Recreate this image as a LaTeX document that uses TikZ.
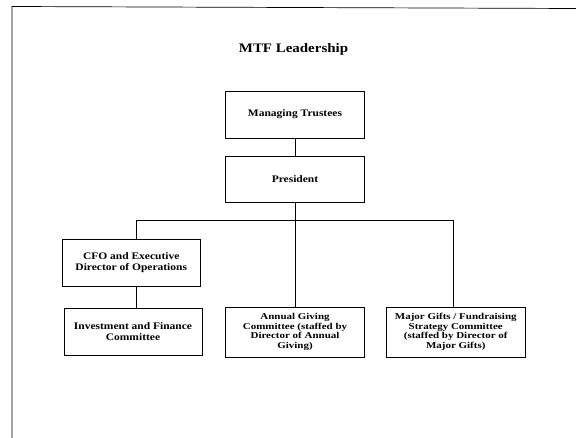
\documentclass[tikz,border=0pt]{standalone}
\usepackage{fontspec}
\setmainfont{Liberation Serif}[FakeStretch=1.15]
\newfontfamily\smallboxfont{Liberation Serif}[FakeStretch=1.22]
\begin{document}
\begin{tikzpicture}[x=1pt,y=-1pt,
  orgbox/.style={draw=black,line width=0.7pt,rectangle,inner sep=0pt,align=center,
    font=\fontsize{10}{11}\selectfont\bfseries},
  smallbox/.style={orgbox,font=\smallboxfont\fontsize{9}{9.5}\selectfont\bfseries},
  link/.style={draw=black,line width=0.7pt}]
\useasboundingbox (0,0) rectangle (576,438);
\fill[white] (0,0) rectangle (576,438);
% frame (top and left edges only)
\draw[line width=0.7pt] (12,438) -- (12,6.5) -- (576,8.5);
% title
\node[font=\fontsize{13}{15}\selectfont\bfseries] (title) at (293.5,49) {MTF Leadership};
% boxes
\node[orgbox,minimum width=139pt,minimum height=47pt] (mt) at (295,114.5) {Managing Trustees};
\node[orgbox,minimum width=139pt,minimum height=46pt] (pres) at (295,179) {President};
\node[orgbox,minimum width=137.5pt,minimum height=47pt] (cfo) at (131.25,262.5) {CFO and Executive\\Director of Operations};
\node[orgbox,minimum width=138pt,minimum height=47pt] (inv) at (133,331.5) {Investment and Finance\\Committee};
\node[smallbox,minimum width=139pt,minimum height=50pt] (ann) at (295,332) {Annual Giving\\Committee (staffed by\\Director of Annual\\Giving)};
\node[smallbox,minimum width=138.5pt,minimum height=50pt] (maj) at (455.75,332) {Major Gifts / Fundraising\\Strategy Committee\\(staffed by Director of\\Major Gifts)};
% bus coordinates
\coordinate (busL) at (136,220);
\coordinate (busC) at (295,220);
\coordinate (busR) at (453.5,220);
% connectors
\draw[link] (mt.south) -- (pres.north);
\draw[link] (pres.south) -- (busC);
\draw[link] (busL) -- (busR);
\draw[link] (busL) -- (busL |- cfo.north);
\draw[link] (cfo.south -| busL) -- (busL |- inv.north);
\draw[link] (busC) -- (busC |- ann.north);
\draw[link] (busR) -- (busR |- maj.north);
\end{tikzpicture}
\end{document}
